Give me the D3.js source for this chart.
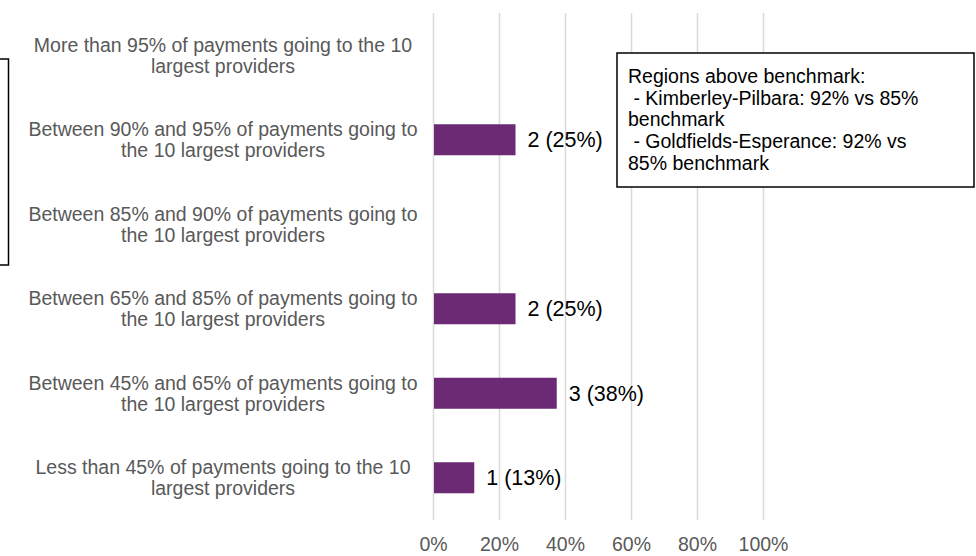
<!DOCTYPE html>
<html>
<head>
<meta charset="utf-8">
<script src="https://cdn.jsdelivr.net/npm/d3@7"></script>
<style>
  body { margin: 0; background: #fff; }
  text { font-family: "Liberation Sans", Arial, sans-serif; }
</style>
</head>
<body>
<div class="container"></div>
<script>
const width = 976;
const height = 556;

// rows top to bottom, "\n" marks where the label wraps
const categories = [
    "More than 95% of payments going to the 10\nlargest providers",
    "Between 90% and 95% of payments going to\nthe 10 largest providers",
    "Between 85% and 90% of payments going to\nthe 10 largest providers",
    "Between 65% and 85% of payments going to\nthe 10 largest providers",
    "Between 45% and 65% of payments going to\nthe 10 largest providers",
    "Less than 45% of payments going to the 10\nlargest providers"
];
const counts = [0, 2, 0, 2, 3, 1];
const shares = [0, 0.25, 0, 0.25, 0.375, 0.125];
const ticks = [0, 0.2, 0.4, 0.6, 0.8, 1];
const noteLines = [
    "Regions above benchmark:",
    " - Kimberley-Pilbara: 92% vs 85%",
    "benchmark",
    " - Goldfields-Esperance: 92% vs",
    "85% benchmark"
];

let rows = categories.map((c, i) => ({cat: c, count: counts[i], share: shares[i]}));

const svg = d3.select(".container")
    .append("svg")
    .attr("width", width)
    .attr("height", height);

const x = d3.scaleLinear()
    .domain([0, 1])
    .range([433, 763]);

const y = d3.scaleBand()
    .domain(categories)
    .range([13, 520])
    .paddingInner(0.633)
    .paddingOuter(0.3165);

// gridlines
const grid = svg.append("g")
    .attr("transform", "translate(0,520)")
    .call(d3.axisBottom(x).tickValues(ticks).tickSize(-507).tickFormat(""));
grid.select(".domain").remove();
grid.selectAll("line")
    .attr("stroke", "#d9d9d9")
    .attr("stroke-width", 1.5);

// tick labels
const xAxis = svg.append("g")
    .attr("transform", "translate(0,520)")
    .call(d3.axisBottom(x).tickValues(ticks).tickSize(0).tickPadding(17).tickFormat(d3.format(".0%")));
xAxis.select(".domain").remove();
xAxis.selectAll("text")
    .attr("fill", "#595959")
    .style("font-size", "19.5px")
    .style("font-family", "'Liberation Sans', Arial, sans-serif");

// bars
svg.selectAll("rect.bar")
    .data(rows.filter(d => d.count > 0))
    .enter()
    .append("rect")
    .attr("class", "bar")
    .attr("x", x(0) + 1)
    .attr("y", d => y(d.cat))
    .attr("width", d => x(d.share) - x(0) - 1)
    .attr("height", y.bandwidth())
    .attr("fill", "#6b2a73");

// value labels
svg.selectAll("text.val")
    .data(rows.filter(d => d.count > 0))
    .enter()
    .append("text")
    .attr("class", "val")
    .attr("x", d => x(d.share) + 12)
    .attr("y", d => y(d.cat) + y.bandwidth() / 2)
    .attr("dy", "0.36em")
    .attr("fill", "#000")
    .style("font-size", "21.5px")
    .text(d => d.count + " (" + Math.round(d.share * 100) + "%)");

// category labels
const cats = svg.selectAll("text.cat")
    .data(rows)
    .enter()
    .append("text")
    .attr("class", "cat")
    .attr("text-anchor", "middle")
    .attr("fill", "#595959")
    .style("font-size", "19.5px");

cats.each(function(d) {
    const mid = y(d.cat) + y.bandwidth() / 2;
    const lines = d.cat.split("\n");
    lines.forEach((ln, k) => {
        d3.select(this).append("tspan")
            .attr("x", 223)
            .attr("y", mid - 3.75 + k * 21)
            .text(ln);
    });
});

// box sticking in from the left edge
svg.append("rect")
    .attr("x", -100)
    .attr("y", 59)
    .attr("width", 108.5)
    .attr("height", 206)
    .attr("fill", "none")
    .attr("stroke", "#000")
    .attr("stroke-width", 1.5);

// annotation box
svg.append("rect")
    .attr("x", 617)
    .attr("y", 53)
    .attr("width", 357)
    .attr("height", 134)
    .attr("fill", "#fff")
    .attr("stroke", "#000")
    .attr("stroke-width", 1.5);

svg.append("g")
    .selectAll("text")
    .data(noteLines)
    .enter()
    .append("text")
    .attr("x", 628)
    .attr("y", (d, i) => 83 + i * 21.7)
    .attr("fill", "#000")
    .style("font-size", "19.5px")
    .style("white-space", "pre")
    .text(d => d);
</script>
</body>
</html>
